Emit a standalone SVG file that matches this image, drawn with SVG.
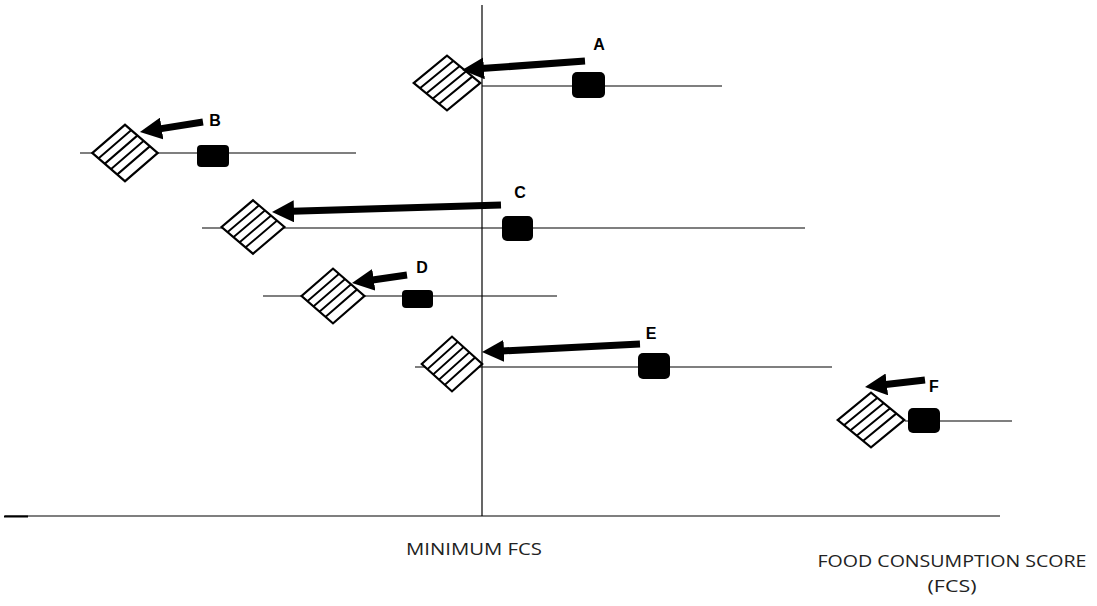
<svg xmlns="http://www.w3.org/2000/svg" width="1097" height="606" viewBox="0 0 1097 606">
<style>
.axis{stroke:#000;stroke-width:1.2;fill:none}
.row{stroke:#000;stroke-width:1.2;fill:none}
.arrow{stroke:#000;stroke-width:7;fill:none;marker-end:url(#head)}
.box{fill:#000}
.lbl{font-family:"Liberation Sans",Arial,sans-serif;font-weight:bold;font-size:16px;fill:#000;text-anchor:middle}
.cap{font-family:"Open Sans","Liberation Sans",sans-serif;font-size:17px;fill:#222;text-anchor:middle}
</style>
<defs>
<marker id="head" markerUnits="userSpaceOnUse" markerWidth="22" markerHeight="22" viewBox="0 0 22 22" refX="10" refY="11" orient="auto">
<path d="M0,0 L22,11 L0,22 z" fill="#000"/>
</marker>
<g id="diamond">
<rect x="-21" y="-21" width="42" height="42" fill="#fff" stroke="#000" stroke-width="2.2"/>
<path d="M-13,-21V21M-5,-21V21M3,-21V21M11,-21V21" stroke="#000" stroke-width="2"/>
</g>
</defs>
<g id="axes">
<line class="axis" x1="482" y1="5" x2="482" y2="516"/>
<line class="axis" x1="5" y1="516" x2="1000" y2="516"/>
<line x1="4" y1="516.5" x2="28" y2="516.5" stroke="#000" stroke-width="2"/>
</g>
<g id="rows">
<line class="row" x1="482" y1="86" x2="722" y2="86"/>
<line class="row" x1="80" y1="153" x2="356" y2="153"/>
<line class="row" x1="202" y1="228" x2="805" y2="228"/>
<line class="row" x1="263" y1="296" x2="557" y2="296"/>
<line class="row" x1="415" y1="367" x2="832" y2="367"/>
<line class="row" x1="905" y1="421" x2="1012" y2="421"/>
</g>
<g id="nodeA">
<use href="#diamond" transform="translate(447,83) scale(1.12,0.92) rotate(45)"/>
<rect class="box" x="572" y="72" width="33" height="26" rx="5"/>
<text class="lbl" x="599" y="50">A</text>
</g>
<g id="nodeB">
<use href="#diamond" transform="translate(125,153) scale(1.1,0.95) rotate(45)"/>
<rect class="box" x="197" y="145" width="32" height="22" rx="4"/>
<text class="lbl" x="215" y="126">B</text>
</g>
<g id="nodeC">
<use href="#diamond" transform="translate(253,227) scale(1.06,0.9) rotate(45)"/>
<rect class="box" x="502" y="216" width="31" height="25" rx="5"/>
<text class="lbl" x="520" y="198">C</text>
</g>
<g id="nodeD">
<use href="#diamond" transform="translate(333,296) scale(1.06,0.92) rotate(45)"/>
<rect class="box" x="402" y="290" width="31" height="18" rx="4"/>
<text class="lbl" x="422" y="273">D</text>
</g>
<g id="nodeE">
<use href="#diamond" transform="translate(452,364) scale(1.02,0.92) rotate(45)"/>
<rect class="box" x="638" y="353" width="32" height="26" rx="5"/>
<text class="lbl" x="651" y="339">E</text>
</g>
<g id="nodeF">
<use href="#diamond" transform="translate(871,420) scale(1.12,0.92) rotate(45)"/>
<rect class="box" x="908" y="408" width="32" height="25" rx="5"/>
<text class="lbl" x="934" y="392">F</text>
</g>
<g id="connectors">
<line class="arrow" x1="585" y1="61" x2="474" y2="69.1"/>
<line class="arrow" x1="203" y1="122" x2="151.8" y2="130.1"/>
<line class="arrow" x1="501" y1="205" x2="284" y2="211.6"/>
<line class="arrow" x1="407" y1="275" x2="363.9" y2="281.3"/>
<line class="arrow" x1="640" y1="344" x2="494" y2="351.4"/>
<line class="arrow" x1="925" y1="380" x2="876.9" y2="385.6"/>
</g>
<g id="captions">
<text class="cap" x="474" y="555" textLength="136" lengthAdjust="spacingAndGlyphs">MINIMUM FCS</text>
<text class="cap" x="952" y="567" textLength="269" lengthAdjust="spacingAndGlyphs">FOOD CONSUMPTION SCORE</text>
<text class="cap" x="952" y="592" textLength="49" lengthAdjust="spacingAndGlyphs">(FCS)</text>
</g>
</svg>
